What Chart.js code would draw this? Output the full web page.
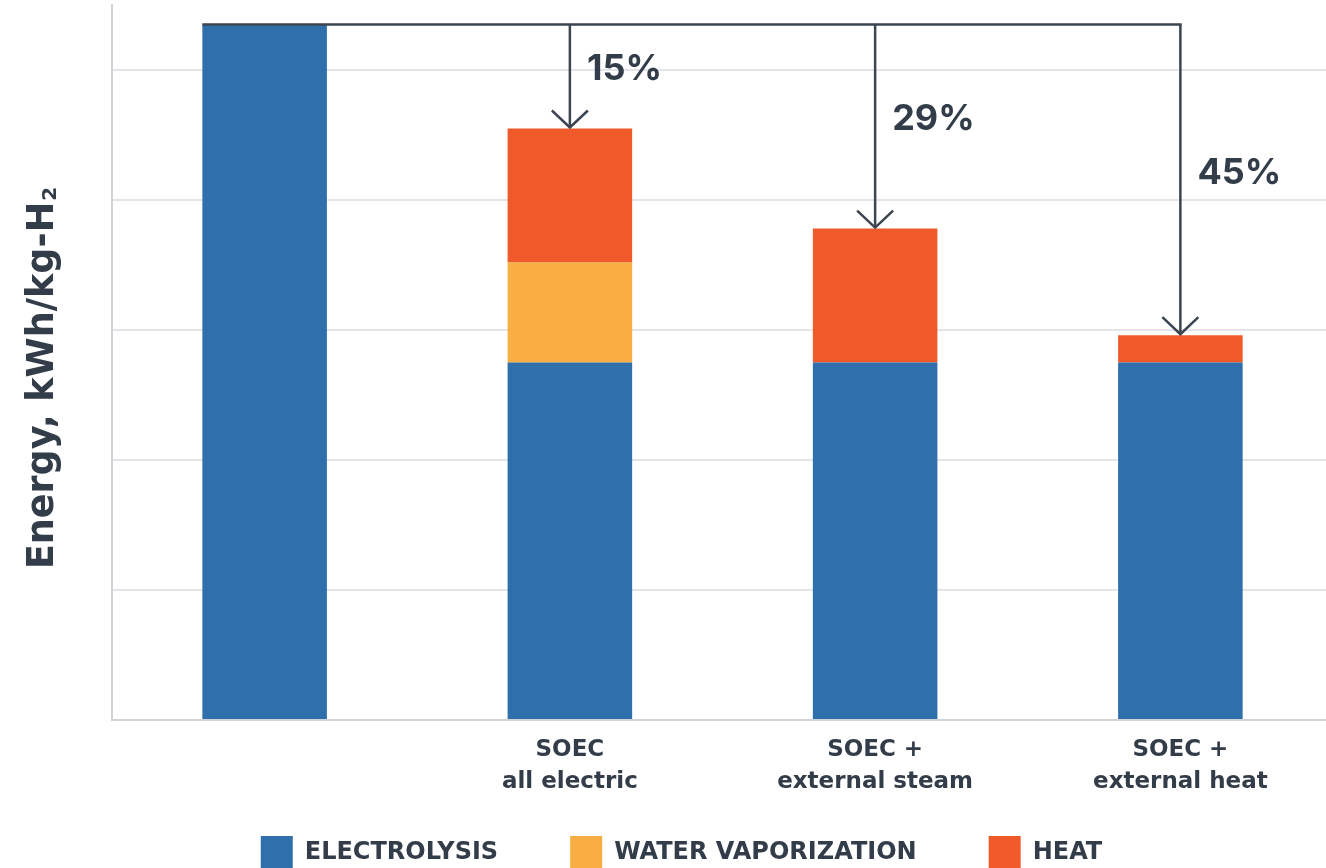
<!DOCTYPE html>
<html>
<head>
<meta charset="utf-8">
<script src="https://cdn.jsdelivr.net/npm/chart.js@4.4.1/dist/chart.umd.min.js"></script>
<style>
  html, body { margin: 0; padding: 0; background: #ffffff; overflow: hidden; }
  #wrap { position: relative; width: 1333px; height: 880px; }
</style>
</head>
<body>
<div id="wrap"><canvas id="chart"></canvas></div>
<script>
// Energy demand per kg of hydrogen, kWh/kg-H2
const categories = [
  [''],
  ['SOEC', 'all electric'],
  ['SOEC +', 'external steam'],
  ['SOEC +', 'external heat']
];
const electrolysis = [53.5, 27.5, 27.5, 27.5];
const waterVaporization = [null, 7.7, null, null];
const heat = [null, 10.3, 10.3, 2.1];
const seriesNames = ['ELECTROLYSIS', 'WATER VAPORIZATION', 'HEAT'];
const yTicks = [0, 10, 20, 30, 40, 50];
const yMax = 55;

const COLORS = { electrolysis: '#2f6fab', water: '#f8ae42', heat: '#f05a2a' };
const INK = '#333d4a';
const ARROW = '#3b4550';
const FONT = '"DejaVu Sans", Inter, sans-serif';
const PCT_FONT = 'Inter, "DejaVu Sans", sans-serif';
const LEGEND_PAD = 72;

function stackTotal(i) {
  return (electrolysis[i] || 0) + (waterVaporization[i] || 0) + (heat[i] || 0);
}

// Reduction arrows from the reference bar to every SOEC stack, with percentages
const reductionArrows = {
  id: 'reductionArrows',
  afterLayout(chart) {
    // let the two-line category labels run below the axis box
    chart.scales.x.bottom = chart.scales.x.top + 90;
    // nudge the legend row to the left
    chart.legend.left -= 6;
    chart.legend.right -= 6;
  },
  afterDatasetsDraw(chart) {
    const { ctx, scales: { x, y } } = chart;
    const baseTotal = stackTotal(0);
    const yBase = y.getPixelForValue(baseTotal);
    const firstBar = chart.getDatasetMeta(0).data[0];
    const left = firstBar.x - firstBar.width / 2;
    const lastX = x.getPixelForValue(categories.length - 1);

    ctx.save();
    ctx.strokeStyle = ARROW;
    ctx.lineWidth = 2.5;
    ctx.beginPath();
    ctx.moveTo(left, yBase);
    ctx.lineTo(lastX + 1.25, yBase);
    ctx.stroke();

    for (let i = 1; i < categories.length; i++) {
      const total = stackTotal(i);
      const cx = x.getPixelForValue(i);
      const yTop = y.getPixelForValue(total);
      ctx.beginPath();
      ctx.moveTo(cx, yBase);
      ctx.lineTo(cx, yTop - 1);
      ctx.stroke();
      ctx.beginPath();
      ctx.moveTo(cx - 18, yTop - 18);
      ctx.lineTo(cx, yTop - 1);
      ctx.lineTo(cx + 18, yTop - 18);
      ctx.stroke();

      const pct = Math.round((1 - total / baseTotal) * 100) + '%';
      ctx.fillStyle = INK;
      ctx.font = '700 36px ' + PCT_FONT;
      ctx.textAlign = 'left';
      ctx.textBaseline = 'middle';
      ctx.fillText(pct, cx + 17, (yBase + yTop) / 2 - 7);
    }
    ctx.restore();
  }
};

// Rotated value-axis title with subscript 2
const axisTitle = {
  id: 'axisTitle',
  afterDraw(chart) {
    const { ctx } = chart;
    const main = 'Energy, kWh/kg-H';
    const sub = '2';
    ctx.save();
    ctx.fillStyle = INK;
    ctx.font = '700 36.5px ' + FONT;
    const wMain = ctx.measureText(main).width;
    ctx.font = '700 20px ' + FONT;
    const wSub = ctx.measureText(sub).width;
    const total = wMain + wSub + 1;
    ctx.translate(53, 378);
    ctx.rotate(-Math.PI / 2);
    ctx.textAlign = 'left';
    ctx.textBaseline = 'alphabetic';
    ctx.font = '700 36.5px ' + FONT;
    ctx.fillText(main, -total / 2, 0);
    ctx.font = '700 20px ' + FONT;
    ctx.fillText(sub, -total / 2 + wMain + 1, 3);
    ctx.restore();
  }
};

new Chart(document.getElementById('chart'), {
  type: 'bar',
  data: {
    labels: categories,
    datasets: [
      { label: seriesNames[0], data: electrolysis, backgroundColor: COLORS.electrolysis },
      { label: seriesNames[1], data: waterVaporization, backgroundColor: COLORS.water },
      { label: seriesNames[2], data: heat, backgroundColor: COLORS.heat }
    ]
  },
  options: {
    responsive: true,
    maintainAspectRatio: false,
    animation: false,
    devicePixelRatio: 1,
    layout: { padding: { left: 42, right: 0, top: 5, bottom: 0 } },
    datasets: {
      bar: { barPercentage: 1, categoryPercentage: 0.408, borderWidth: 0, borderSkipped: false }
    },
    scales: {
      x: {
        stacked: true,
        grid: { display: false, drawTicks: false },
        border: { display: true, color: '#cfd3d8', width: 2 },
        ticks: {
          color: INK,
          font: { family: FONT, size: 23, weight: '700', lineHeight: 1.38 },
          padding: 14,
          maxRotation: 0,
          autoSkip: false
        },
        afterFit(scale) { scale.height = 116 - LEGEND_PAD; }
      },
      y: {
        stacked: true,
        min: 0,
        max: yMax,
        afterBuildTicks(scale) { scale.ticks = yTicks.map(v => ({ value: v })); },
        grid: { color: '#e3e5e9', lineWidth: 2, drawTicks: false },
        border: { display: true, color: '#cfd3d8', width: 2 },
        ticks: { display: false },
        afterFit(scale) { scale.width = 70; }
      }
    },
    plugins: {
      legend: {
        position: 'bottom',
        align: 'center',
        labels: {
          boxWidth: 32,
          boxHeight: 34,
          padding: LEGEND_PAD,
          color: INK,
          font: { family: FONT, size: 24, weight: '700' }
        }
      },
      tooltip: { enabled: false }
    }
  },
  plugins: [reductionArrows, axisTitle]
});
</script>
</body>
</html>
